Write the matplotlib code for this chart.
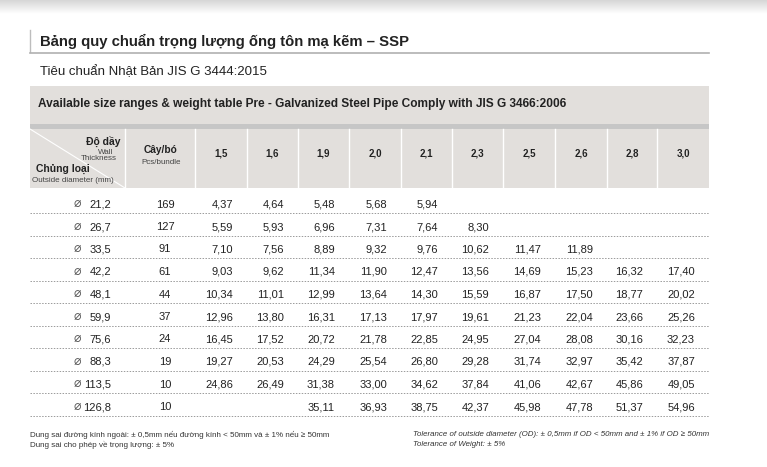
#!/usr/bin/env python3
import numpy as np
import matplotlib
matplotlib.use("Agg")
import matplotlib.pyplot as plt
from matplotlib.patches import Rectangle

plt.rcParams["font.family"] = ["Liberation Sans", "DejaVu Sans"]

# ---------------- data ----------------
title = "Bảng quy chuẩn trọng lượng ống tôn mạ kẽm – SSP"
subtitle = "Tiêu chuẩn Nhật Bản JIS G 3444:2015"
band_text = "Available size ranges & weight table Pre - Galvanized Steel Pipe Comply with JIS G 3466:2006"

thickness = ["1,5", "1,6", "1,9", "2,0", "2,1", "2,3", "2,5", "2,6", "2,8", "3,0"]
diameters = [21.2, 26.7, 33.5, 42.2, 48.1, 59.9, 75.6, 88.3, 113.5, 126.8]
pcs_bundle = [169, 127, 91, 61, 44, 37, 24, 19, 10, 10]
weights = [
    [4.37, 4.64, 5.48, 5.68, 5.94, None, None, None, None, None],
    [5.59, 5.93, 6.96, 7.31, 7.64, 8.30, None, None, None, None],
    [7.10, 7.56, 8.89, 9.32, 9.76, 10.62, 11.47, 11.89, None, None],
    [9.03, 9.62, 11.34, 11.90, 12.47, 13.56, 14.69, 15.23, 16.32, 17.40],
    [10.34, 11.01, 12.99, 13.64, 14.30, 15.59, 16.87, 17.50, 18.77, 20.02],
    [12.96, 13.80, 16.31, 17.13, 17.97, 19.61, 21.23, 22.04, 23.66, 25.26],
    [16.45, 17.52, 20.72, 21.78, 22.85, 24.95, 27.04, 28.08, 30.16, 32.23],
    [19.27, 20.53, 24.29, 25.54, 26.80, 29.28, 31.74, 32.97, 35.42, 37.87],
    [24.86, 26.49, 31.38, 33.00, 34.62, 37.84, 41.06, 42.67, 45.86, 49.05],
    [None, None, 35.11, 36.93, 38.75, 42.37, 45.98, 47.78, 51.37, 54.96],
]
notes_vi = [
    "Dung sai đường kính ngoài: ± 0,5mm nếu đường kính < 50mm và ± 1% nếu ≥ 50mm",
    "Dung sai cho phép về trọng lượng: ± 5%",
]
notes_en = [
    "Tolerance of outside diameter (OD): ± 0,5mm if OD < 50mm and ± 1% if OD ≥ 50mm",
    "Tolerance of Weight: ± 5%",
]


def vn(x):
    return "{:.2f}".format(x).replace(".", ",")


# ---------------- layout (pixel space) ----------------
fig = plt.figure(figsize=(7.67, 4.67), dpi=100)
ax = fig.add_axes([0, 0, 1, 1])
ax.set_xlim(0, 767)
ax.set_ylim(467, 0)
ax.axis("off")

TXT = "#222222"
HEAD_BG = "#e2dfdc"
LEFT, RIGHT = 30, 709

# top grey strip
grad = np.linspace(0.84, 1.0, 50).reshape(-1, 1)
ax.imshow(grad, cmap="gray", vmin=0, vmax=1, extent=(0, 767, 14, 0), aspect="auto")

# title block
ax.plot([LEFT, LEFT], [30, 52], color="#bdbdbd", lw=1)
ax.plot([LEFT, RIGHT], [52.5, 52.5], color="#b0b0b0", lw=1.2)
ax.text(40, 41, title, fontsize=10.7, fontweight="bold", color=TXT, va="center")
ax.text(40, 72, subtitle, fontsize=9.5, color=TXT, va="center")

# grey band
ax.add_patch(Rectangle((LEFT, 86), RIGHT - LEFT, 38, color=HEAD_BG, lw=0))
ax.text(38, 104, band_text, fontsize=8.6, fontweight="bold", color=TXT, va="center")
ax.add_patch(Rectangle((LEFT, 124), RIGHT - LEFT, 5, color="#c6c6c6", lw=0))

# header
ax.add_patch(Rectangle((LEFT, 129), RIGHT - LEFT, 59, color=HEAD_BG, lw=0))
col_edges = [LEFT, 125, 195, 247, 298, 349, 401, 452, 503, 555, 607, 657, RIGHT]
for xe in col_edges[1:-1]:
    ax.plot([xe, xe], [129, 188], color="white", lw=1)
ax.plot([LEFT, 125], [129, 188], color="white", lw=0.8)

ax.text(120, 141, "Độ dầy", fontsize=7.5, fontweight="bold", color=TXT, ha="right", va="center")
ax.text(113, 152.5, "Wall", fontsize=5.8, color="#444444", ha="right", va="center")
ax.text(117, 159, "Thickness", fontsize=5.8, color="#444444", ha="right", va="center")
ax.text(36, 169, "Chủng loại", fontsize=7.5, fontweight="bold", color=TXT, ha="left", va="center")
ax.text(32, 181, "Outside diameter (mm)", fontsize=5.8, color="#444444", ha="left", va="center")

ax.text(161, 150, "Cây/bó", fontsize=7.3, fontweight="bold", color=TXT, ha="center", va="center")
ax.text(161, 162, "Pcs/bundle", fontsize=5.8, color="#444444", ha="center", va="center")

for i, t in enumerate(thickness):
    xc = (col_edges[i + 2] + col_edges[i + 3]) / 2
    ax.text(xc, 154, t, fontsize=7, fontweight="bold", color=TXT, ha="center", va="center")

# body rows
row_h = 22.5
y0 = 204.5
for r, d in enumerate(diameters):
    yc = y0 + r * row_h
    ax.text(77, yc - 1, "\u2300", fontsize=9, color="#555555", ha="center", va="center",
            family=["DejaVu Sans"])
    ax.text(111, yc, "{:.1f}".format(d).replace(".", ","), fontsize=8, color=TXT,
            ha="right", va="center")
    ax.text(165, yc, str(pcs_bundle[r]), fontsize=8, color=TXT, ha="center", va="center")
    for c, w in enumerate(weights[r]):
        if w is None:
            continue
        xr = col_edges[c + 3] - 14
        ax.text(xr, yc, vn(w), fontsize=8, color=TXT, ha="right", va="center")
    yl = yc + 8.5
    ax.plot([LEFT, RIGHT], [yl, yl], color="#9a9a9a", lw=0.7, ls=(0, (1.5, 1.5)))

# footnotes
for k, (a, b) in enumerate(zip(notes_vi, notes_en)):
    ax.text(30, 435 + k * 9.5, a, fontsize=5.8, color="#333333", va="center")
    ax.text(413, 435 + k * 9.5, b, fontsize=5.7, color="#333333", va="center", style="italic")

fig.savefig("out.png", dpi=100)
